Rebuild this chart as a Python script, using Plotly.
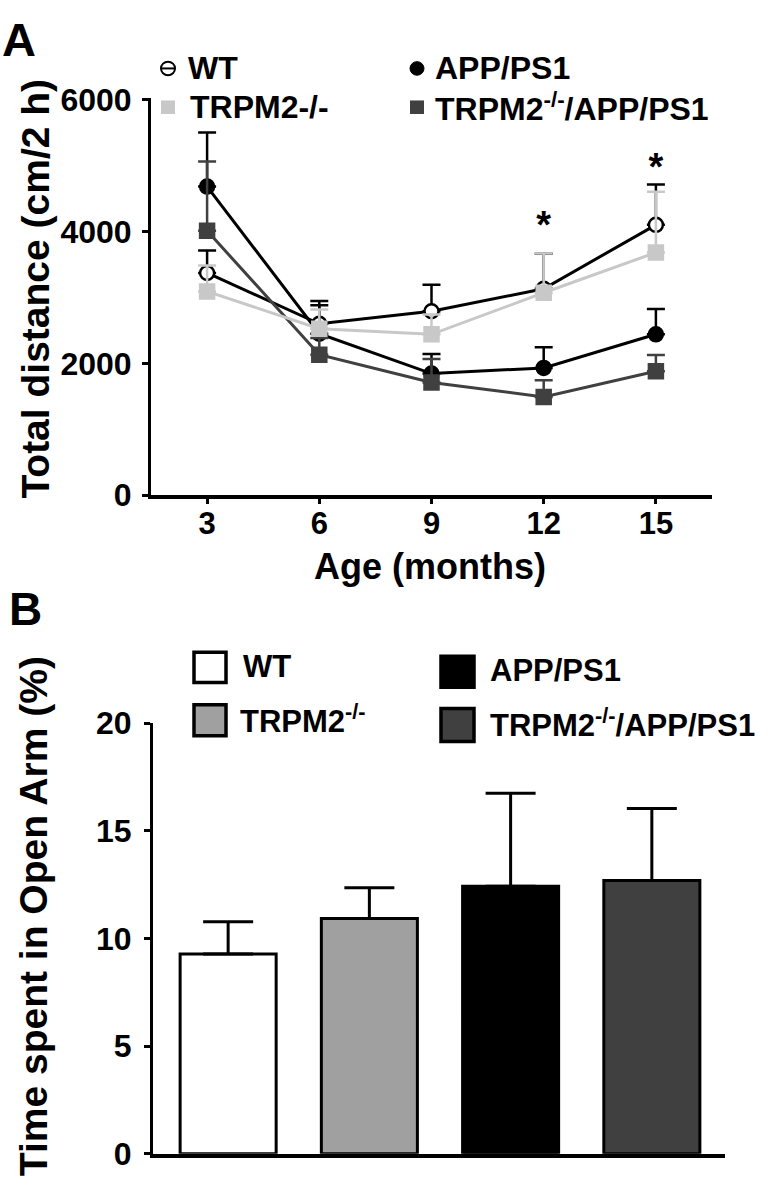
import plotly.graph_objects as go

# ---------------- Data ----------------
ages = [3, 6, 9, 12, 15]
age_ticks = [3, 6, 9, 12, 15]

wt = [3370, 2600, 2790, 3130, 4100]
wt_err = [340, 345, 400, 530, 610]
app = [4680, 2450, 1845, 1930, 2440]
app_err = [820, 430, 295, 315, 385]
trpm2 = [3090, 2525, 2440, 3070, 3680]
trpm2_err = [395, 290, 300, 595, 920]
dko = [4010, 2130, 1710, 1490, 1880]
dko_err = [1050, 255, 355, 255, 245]

sig_ages = [12, 15]
sig_y = [4050, 4930]

groups_b = ["WT", "TRPM2<sup>-/-</sup>", "APP/PS1", "TRPM2<sup>-/-</sup>/APP/PS1"]
open_arm = [9.28, 10.93, 12.43, 12.69]
open_arm_err = [1.5, 1.43, 4.31, 3.35]

# ---------------- Helpers ----------------
W, H = 778, 1199
FONT = "Liberation Sans, Arial, Helvetica, sans-serif"


def px(x):
    return x / W


def py(y):
    return 1 - y / H


BLACK = "#000000"
LIGHT = "#c8c8c8"
DARK = "#404040"
MIDGRAY = "#a0a0a0"

fig = go.Figure()

# ---------------- Panel A ----------------
series = [
    ("WT", wt, wt_err, BLACK, "circle", "white", BLACK),
    ("APP/PS1", app, app_err, BLACK, "circle", BLACK, BLACK),
    ("TRPM2-/-/APP/PS1", dko, dko_err, DARK, "square", DARK, DARK),
    ("TRPM2-/-", trpm2, trpm2_err, LIGHT, "square", LIGHT, LIGHT),
]
for name, vals, errs, col, sym, fill, mline in series:
    fig.add_trace(go.Scatter(
        x=ages, y=vals, name=name, mode="lines+markers",
        line=dict(color=col, width=3),
        marker=dict(symbol=sym, size=14, color=fill, line=dict(color=mline, width=2.5)),
        error_y=dict(type="data", array=errs, arrayminus=[0] * len(errs), symmetric=False,
                     color=col, thickness=2.5, width=9),
        xaxis="x", yaxis="y", showlegend=False,
    ))

fig.add_trace(go.Scatter(
    x=sig_ages, y=sig_y, mode="text", text=["*"] * len(sig_ages),
    textfont=dict(family=FONT, size=38, color=BLACK, weight="bold"),
    textposition="middle center", xaxis="x", yaxis="y", showlegend=False,
))

# ---------------- Panel B ----------------
fig.add_trace(go.Bar(
    x=list(range(len(groups_b))), y=open_arm, width=0.68,
    marker=dict(color=["white", MIDGRAY, BLACK, DARK], line=dict(color=BLACK, width=3)),
    error_y=dict(type="data", array=open_arm_err, arrayminus=[0] * 4, symmetric=False,
                 color=BLACK, thickness=3, width=25),
    xaxis="x2", yaxis="y2", showlegend=False,
))

tickfont = dict(family=FONT, size=32, color=BLACK, weight="bold")

fig.update_layout(
    width=W, height=H,
    margin=dict(l=0, r=0, t=0, b=0),
    paper_bgcolor="white", plot_bgcolor="white",
    xaxis=dict(domain=[px(151), px(712)], range=[1.5, 16.5], tickvals=age_ticks,
               showgrid=False, zeroline=False, showline=True, linecolor=BLACK, linewidth=4,
               ticks="outside", ticklen=5, tickwidth=3, tickcolor=BLACK,
               tickfont=dict(family=FONT, size=31, color=BLACK, weight="bold"),
               ticklabelstandoff=-7, anchor="y"),
    yaxis=dict(domain=[py(492), py(82)], range=[0, 6030], tickvals=[0, 2000, 4000, 6000],
               showgrid=False, zeroline=False, showline=True, linecolor=BLACK, linewidth=3,
               ticks="outside", ticklen=6, tickwidth=3, tickcolor=BLACK, tickfont=tickfont,
               ticklabelstandoff=4, anchor="x"),
    xaxis2=dict(domain=[px(153), px(725)], range=[-0.532, 3.518], showticklabels=False,
                ticks="", showgrid=False, zeroline=False, showline=True, linecolor=BLACK,
                linewidth=4, anchor="y2"),
    yaxis2=dict(domain=[py(1171), py(727)], range=[0, 20], tickvals=[0, 5, 10, 15, 20],
                showgrid=False, zeroline=False, showline=True, linecolor=BLACK, linewidth=3,
                ticks="outside", ticklen=6, tickwidth=3, tickcolor=BLACK, tickfont=tickfont,
                ticklabelstandoff=6, anchor="x2"),
)

ann = []


def text(x, y, s, size, xanchor="center", angle=0):
    ann.append(dict(x=px(x), y=py(y), xref="paper", yref="paper", text=s, showarrow=False,
                    xanchor=xanchor, yanchor="middle", textangle=angle,
                    font=dict(family=FONT, size=size, color=BLACK, weight="bold")))


# Panel labels
text(19, 22, "A", 47)
text(25, 609, "B", 46)

# Axis titles
text(36, 279, "Total distance (cm/2 h)", 39, angle=-90)
text(430, 565, "Age (months)", 36)
text(33, 926, "Time spent in Open Arm (%)", 39, angle=-90)

# Legend A text
text(186, 52, "WT", 32, xanchor="left")
text(188, 92, "TRPM2-/-", 32, xanchor="left")
text(433, 52, "APP/PS1", 32, xanchor="left")
text(433, 92, "TRPM2<sup>-/-</sup>/APP/PS1", 32, xanchor="left")

# Legend B text
text(241, 669, "WT", 31, xanchor="left")
text(238, 723, "TRPM2<sup>-/-</sup>", 31, xanchor="left")
text(488, 673, "APP/PS1", 31, xanchor="left")
text(488, 727, "TRPM2<sup>-/-</sup>/APP/PS1", 31, xanchor="left")

fig.update_layout(annotations=ann)

shapes = []


def rect(x0, y0, x1, y1, fill, line_w=0, line_c=BLACK):
    shapes.append(dict(type="rect", xref="paper", yref="paper",
                       x0=px(x0), x1=px(x1), y0=py(y1), y1=py(y0),
                       fillcolor=fill, line=dict(color=line_c, width=line_w)))


# Legend A markers
shapes.append(dict(type="circle", xref="paper", yref="paper", x0=px(161), x1=px(175),
                   y0=py(59), y1=py(45), fillcolor="white", line=dict(color=BLACK, width=2)))
shapes.append(dict(type="line", xref="paper", yref="paper", x0=px(162), x1=px(174),
                   y0=py(52), y1=py(52), line=dict(color=BLACK, width=2)))
rect(161, 85, 175, 99, LIGHT)
shapes.append(dict(type="circle", xref="paper", yref="paper", x0=px(410), x1=px(424),
                   y0=py(59), y1=py(45), fillcolor=BLACK, line=dict(color=BLACK, width=1)))
rect(410, 85, 424, 99, DARK)

# Legend B boxes
rect(194, 654, 226, 685, "white", 3.5)
rect(194, 708, 226, 740, MIDGRAY, 3.5)
rect(441, 658, 474, 690, BLACK, 3.5)
rect(441, 712, 474, 746, DARK, 3.5)

fig.update_layout(shapes=shapes)

fig.write_html("out.html", config={"displayModeBar": False},
               post_script="document.body.style.margin='0';")
